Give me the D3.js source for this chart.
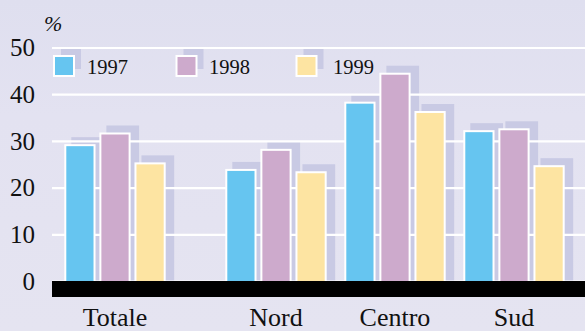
<!DOCTYPE html>
<html><head><meta charset="utf-8">
<script src="https://cdn.jsdelivr.net/npm/d3@7"></script>
<style>
html,body{margin:0;padding:0;background:#e5e4f1;}
svg{display:block;}
</style></head>
<body>
<svg id="chart" width="585" height="331"></svg>
<script>
const categories = ["Totale", "Nord", "Centro", "Sud"];
const years = ["1997", "1998", "1999"];
const v1997 = [29.3, 24.0, 38.4, 32.3];
const v1998 = [31.8, 28.3, 44.6, 32.7];
const v1999 = [25.4, 23.5, 36.4, 24.8];
const yTicks = [0, 10, 20, 30, 40, 50];
const colors = ["#66c5f0", "#cdaacc", "#fde4a2"];
const series = [v1997, v1998, v1999];

const FONT = '"Liberation Serif", "Times New Roman", serif';
const svg = d3.select("#chart").attr("font-family", FONT);
const W = 585, H = 331;
const plotLeft = 52, baseY = 281, topY = 47.5;

const defs = svg.append("defs");
const grad = defs.append("linearGradient").attr("id","bg").attr("x1",0).attr("y1",0).attr("x2",0).attr("y2",1);
grad.append("stop").attr("offset","0%").attr("stop-color","#dfdfef");
grad.append("stop").attr("offset","35%").attr("stop-color","#e3e2f1");
grad.append("stop").attr("offset","100%").attr("stop-color","#e5e4f1");
svg.append("rect").attr("width",W).attr("height",H).attr("fill","url(#bg)");

const y = d3.scaleLinear().domain([0, 50]).range([baseY, topY]);

// group scale: Nord/Centro/Sud evenly spaced, Totale separated by an extra gap
const totalGap = 42;
const step = 119, padIn = 0.148;
const x0 = d3.scaleBand().domain(categories).range([106.3, 106.3 + step * (categories.length - padIn)]).paddingInner(padIn).paddingOuter(0);
const groupX = c => x0(c) - (c === "Totale" ? totalGap : 0);
const x1 = d3.scaleBand().domain(years).range([0, x0.bandwidth()]).paddingInner(0.11);

const data = [];
categories.forEach((c, i) => years.forEach((yr, j) => data.push({cat: c, year: yr, value: series[j][i], color: colors[j]})));

const shDx = 7, shDy = 7;
const shadowColor = "#c9cae4";

// shadows
svg.append("g").selectAll("rect").data(data).join("rect")
  .attr("x", d => groupX(d.cat) + x1(d.year) + shDx)
  .attr("y", d => y(d.value) - shDy)
  .attr("width", x1.bandwidth() + 1.5)
  .attr("height", d => baseY - y(d.value) + shDy)
  .attr("fill", shadowColor);

// legend shadows
const legX = [53, 175.5, 295.5];
const legLabX = [87, 209, 333];
const legG = svg.append("g");
years.forEach((yr, j) => {
  legG.append("rect").attr("x", legX[j] + 1 + shDx).attr("y", 56 - shDy).attr("width", 20).attr("height", 20).attr("fill", shadowColor);
});

// gridlines + tick labels
const yAxis = d3.axisLeft(y).tickValues(yTicks).tickSize(-(W - plotLeft)).tickFormat(d3.format("d"));
const ga = svg.append("g").attr("transform", `translate(${plotLeft},0)`).call(yAxis)
  .attr("font-family", FONT).attr("font-size", 25);
ga.select(".domain").remove();
ga.selectAll(".tick line").attr("stroke", "#ffffff").attr("stroke-width", 2.2);
ga.selectAll(".tick text").attr("x", -17).attr("dy", "0.33em")
  .attr("text-anchor", "end").attr("fill", "#111");

// bars
svg.append("g").selectAll("rect").data(data).join("rect")
  .attr("x", d => groupX(d.cat) + x1(d.year) + 1)
  .attr("y", d => y(d.value) + 1)
  .attr("width", x1.bandwidth() - 2)
  .attr("height", d => baseY - y(d.value))
  .attr("fill", d => d.color)
  .attr("stroke", "#ffffff").attr("stroke-width", 2);

// legend
years.forEach((yr, j) => {
  legG.append("rect").attr("x", legX[j] + 1).attr("y", 56).attr("width", 20).attr("height", 20)
    .attr("fill", colors[j]).attr("stroke", "#fff").attr("stroke-width", 2);
  legG.append("text").attr("x", legLabX[j]).attr("y", 73.5).attr("font-size", 20.5).attr("fill", "#111").text(yr);
});

// black base bar
svg.append("rect").attr("x", plotLeft).attr("y", baseY).attr("width", W - plotLeft).attr("height", 16).attr("fill", "#000");

// category labels
svg.append("g").selectAll("text").data(categories).join("text")
  .attr("x", c => groupX(c) + x0.bandwidth() / 2)
  .attr("y", 326)
  .attr("text-anchor", "middle")
  .attr("font-size", 26)
  .attr("fill", "#111")
  .text(c => c);

// unit label
svg.append("text").attr("x", 44).attr("y", 31).attr("font-size", 22).attr("font-style", "italic").attr("fill", "#111").text("%");
</script>
</body></html>
